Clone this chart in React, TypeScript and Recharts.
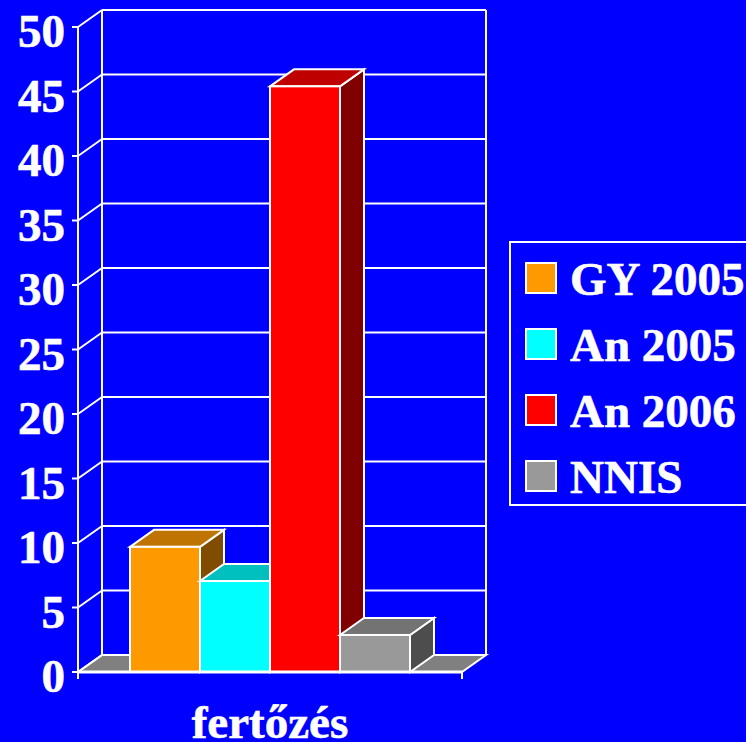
import React from "react";
import { BarChart, Bar, XAxis, YAxis, CartesianGrid, Legend } from "recharts";

const categories = ["fertőzés"];
const seriesNames = ["GY 2005", "An 2005", "An 2006", "NNIS"];
const seriesValues = [9.7, 7.05, 45.4, 2.87];
const seriesColors = ["#FF9900", "#00FFFF", "#FF0000", "#999999"];
const topColors = ["#BF7300", "#00BFBF", "#BF0000", "#737373"];
const sideColors = ["#804D00", "#008080", "#800000", "#4D4D4D"];
const yTicks = [0, 5, 10, 15, 20, 25, 30, 35, 40, 45, 50];

const data = categories.map((name) => {
  const row: Record<string, string | number> = { name };
  seriesNames.forEach((s, i) => {
    row[s] = seriesValues[i];
  });
  return row;
});

const DX = 24;
const DY = -17;
const WHITE = "#FFFFFF";
const SW = 2;
const FONT = "'Liberation Serif', 'Times New Roman', serif";
const FS = 47;

function bar3d(index: number) {
  return (p: any) => {
    const { x, y, width, height } = p;
    const r = x + width;
    const b = y + height;
    return (
      <g stroke={WHITE} strokeWidth={SW} strokeLinejoin="miter">
        <polygon
          fill={sideColors[index]}
          points={`${r},${y} ${r + DX},${y + DY} ${r + DX},${b + DY} ${r},${b}`}
        />
        <polygon
          fill={topColors[index]}
          points={`${x},${y} ${x + DX},${y + DY} ${r + DX},${y + DY} ${r},${y}`}
        />
        <rect x={x} y={y} width={width} height={height} fill={seriesColors[index]} />
      </g>
    );
  };
}

function gridLine(p: any) {
  const { x1, x2, y1 } = p;
  const isFloor = Math.abs(y1 - (p.y + p.height)) < 1;
  return (
    <g key={p.key} stroke={WHITE} strokeWidth={SW} fill="none">
      {isFloor && (
        <>
          <polygon
            fill="#808080"
            points={`${x1},${y1} ${x1 + DX},${y1 + DY} ${x2 + DX},${y1 + DY} ${x2},${y1}`}
          />
          <line x1={x1 + DX} x2={x1 + DX} y1={y1 + DY} y2={p.y + DY} />
          <line x1={x2 + DX} x2={x2 + DX} y1={y1 + DY} y2={p.y + DY} />
          <line x1={x1} x2={x1} y1={y1} y2={y1 + 7} />
          <line x1={x2} x2={x2} y1={y1} y2={y1 + 7} />
        </>
      )}
      <line x1={x1 + DX} x2={x2 + DX} y1={y1 + DY} y2={y1 + DY} />
      <line x1={x1} x2={x1 + DX} y1={y1} y2={y1 + DY} />
    </g>
  );
}

function YTick(p: any) {
  return (
    <text
      x={65}
      y={p.y + 20}
      textAnchor="end"
      fill={WHITE}
      stroke={WHITE}
      strokeWidth={0.6}
      fontFamily={FONT}
      fontSize={FS}
      fontWeight="bold"
    >
      {p.payload.value}
    </text>
  );
}

function XTick(p: any) {
  return (
    <text
      x={p.x}
      y={p.y + 58}
      textAnchor="middle"
      fill={WHITE}
      stroke={WHITE}
      strokeWidth={0.6}
      fontFamily={FONT}
      fontSize={FS}
      fontWeight="bold"
    >
      {p.payload.value}
    </text>
  );
}

function LegendBox(p: any) {
  const items = p.payload || [];
  return (
    <div
      style={{
        position: "relative",
        width: 260,
        height: 265,
        boxSizing: "border-box",
        border: `2px solid ${WHITE}`,
        fontFamily: FONT,
        fontSize: FS,
        fontWeight: "bold",
        color: WHITE,
        WebkitTextStroke: "0.6px #FFFFFF",
      }}
    >
      {items.map((it: any, i: number) => (
        <div key={it.value}>
          <div
            style={{
              position: "absolute",
              left: 14,
              top: 19 + i * 66,
              width: 32,
              height: 32,
              boxSizing: "border-box",
              border: `2px solid ${WHITE}`,
              background: it.color,
            }}
          />
          <div
            style={{
              position: "absolute",
              left: 59,
              top: 9 + i * 66,
              lineHeight: "54px",
              whiteSpace: "nowrap",
            }}
          >
            {it.value}
          </div>
        </div>
      ))}
    </div>
  );
}

export default function App() {
  return (
    <div
      style={{
        position: "fixed",
        left: 0,
        top: 0,
        width: 746,
        height: 742,
        background: "#0000FF",
        overflow: "hidden",
      }}
    >
      <BarChart
        width={746}
        height={742}
        data={data}
        margin={{ top: 27, right: 284, bottom: 0, left: 0 }}
        barCategoryGap={52}
        barGap={0}
        barSize={70}
      >
        <CartesianGrid horizontal={gridLine} vertical={false} />
        <XAxis
          dataKey="name"
          height={70}
          axisLine={{ stroke: WHITE, strokeWidth: 3 }}
          tickLine={false}
          tick={XTick}
          interval={0}
        />
        <YAxis
          width={78}
          domain={[0, 50]}
          ticks={yTicks}
          interval={0}
          axisLine={{ stroke: WHITE, strokeWidth: SW }}
          tickLine={{ stroke: WHITE, strokeWidth: SW }}
          tickSize={6}
          tick={YTick}
        />
        <Legend
          layout="vertical"
          align="center"
          verticalAlign="middle"
          content={LegendBox}
          itemSorter={null}
          wrapperStyle={{ position: "absolute", left: 509, top: 241, width: 260, height: 265 }}
        />
        {seriesNames.map((s, i) => (
          <Bar
            key={s}
            dataKey={s}
            name={s}
            fill={seriesColors[i]}
            isAnimationActive={false}
            shape={bar3d(i)}
          />
        ))}
      </BarChart>
    </div>
  );
}
